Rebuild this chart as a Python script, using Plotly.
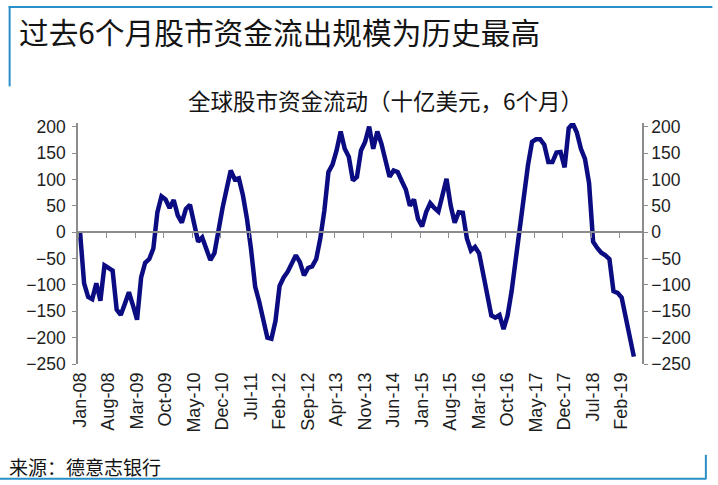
import plotly.graph_objects as go
import pandas as pd

# ---------------- data ----------------
months = pd.date_range("2008-01-01", periods=137, freq="MS").strftime("%b-%y").tolist()

flows = [
    0, -97, -123, -127, -97, -130, -63, -67, -73, -147,
    -157, -136, -114, -139, -166, -86, -58, -51, -31, 38,
    68, 62, 46, 61, 32, 18, 44, 52, 16, -18,
    -10, -33, -53, -40, 6, 46, 82, 117, 100, 102,
    70, 25, -33, -103, -132, -170, -200, -202, -168, -102,
    -86, -75, -57, -44, -57, -82, -68, -65, -51, -12,
    41, 114, 128, 155, 191, 158, 143, 98, 105, 155,
    171, 200, 158, 191, 168, 136, 105, 117, 114, 97,
    81, 50, 62, 25, 11, 38, 55, 46, 39, 70,
    101, 51, 18, 38, 37, -12, -35, -28, -40, -79,
    -120, -158, -162, -157, -184, -158, -111, -51, 13, 76,
    127, 171, 176, 176, 166, 133, 133, 151, 152, 123,
    197, 206, 189, 158, 139, 93, -18, -30, -39, -44,
    -51, -112, -115, -124, -162, -197, -236,
]

y_ticks = [200, 150, 100, 50, 0, -50, -100, -150, -200, -250]
x_tick_labels = months[::7]

title_text = "过去6个月股市资金流出规模为历史最高"
subtitle_text = "全球股市资金流动（十亿美元，6个月）"
source_text = "来源：德意志银行"

# ---------------- layout geometry ----------------
W, H = 718, 485
L, R, T, B = 78.3, 76.3, 122.7, 121.0
PW, PH = W - L - R, H - T - B

def px(x):
    return (x - L) / PW

def py(y):
    return (H - B - y) / PH

Y_RANGE = [-250, 207]
X_RANGE = [-0.5, 138.0]
zero_pos = (0 - Y_RANGE[0]) / (Y_RANGE[1] - Y_RANGE[0])
boundary_ticks = [i - 0.5 for i in range(0, len(months) + 2, 7)]

AXIS_GRAY = "#8c8c8c"
LINE_COLOR = "#0c0c82"
BORDER_BLUE = "#2a8fc8"
YTICK_FONT = dict(family="Liberation Sans, Arial, sans-serif", size=17.5, color="#1e1e1e")
XTICK_FONT = dict(family="Liberation Sans, Arial, sans-serif", size=18, color="#1e1e1e")
CJK = "Noto Sans CJK SC, sans-serif"

fig = go.Figure()
fig.add_trace(go.Scatter(
    x=months, y=flows, mode="lines",
    line=dict(color=LINE_COLOR, width=4.5),
    showlegend=False, hoverinfo="x+y",
))
# helper traces so the secondary axes get drawn
fig.add_trace(go.Scatter(x=[months[0]], y=[0], xaxis="x", yaxis="y2", mode="none",
                         showlegend=False, hoverinfo="skip"))
fig.add_trace(go.Scatter(x=[0], y=[0], xaxis="x2", yaxis="y", mode="none",
                         showlegend=False, hoverinfo="skip"))

fig.update_layout(
    width=W, height=H,
    margin=dict(l=L, r=R, t=T, b=B, autoexpand=False),
    paper_bgcolor="white", plot_bgcolor="white",
    xaxis=dict(
        type="category", range=X_RANGE,
        tickmode="array", tickvals=x_tick_labels, ticktext=x_tick_labels,
        tickangle=-90, ticks="", showline=False, showgrid=False, zeroline=False,
        tickfont=XTICK_FONT, ticklabelstandoff=4,
    ),
    xaxis2=dict(
        overlaying="x", anchor="free", position=zero_pos, range=X_RANGE,
        tickmode="array", tickvals=boundary_ticks, ticks="outside", ticklen=5,
        tickcolor=AXIS_GRAY, tickwidth=1.3, showticklabels=False,
        showline=True, linecolor=AXIS_GRAY, linewidth=1.5,
        showgrid=False, zeroline=False,
    ),
    yaxis=dict(
        range=Y_RANGE, tickmode="array", tickvals=y_ticks,
        showline=True, linecolor=AXIS_GRAY, linewidth=1.5,
        ticks="outside", ticklen=4, tickcolor=AXIS_GRAY, tickwidth=1.3,
        showgrid=False, zeroline=False, tickfont=YTICK_FONT, ticklabelstandoff=3,
    ),
    yaxis2=dict(
        overlaying="y", side="right", anchor="x", range=Y_RANGE,
        tickmode="array", tickvals=y_ticks,
        showline=True, linecolor=AXIS_GRAY, linewidth=1.5,
        ticks="outside", ticklen=4, tickcolor=AXIS_GRAY, tickwidth=1.3,
        showgrid=False, zeroline=False, tickfont=YTICK_FONT,
    ),
)

fig.add_annotation(text=title_text, xref="paper", yref="paper",
                   x=px(17), y=py(31), xanchor="left", yanchor="middle",
                   showarrow=False, font=dict(family=CJK, size=29.7, color="#141414"))
fig.add_annotation(text=subtitle_text, xref="paper", yref="paper",
                   x=px(385), y=py(100), xanchor="center", yanchor="middle",
                   showarrow=False, font=dict(family=CJK, size=22.5, color="#141414"))
fig.add_annotation(text=source_text, xref="paper", yref="paper",
                   x=px(7), y=py(467), xanchor="left", yanchor="middle",
                   showarrow=False, font=dict(family=CJK, size=19, color="#141414"))

# decorative frame lines
for x0, y0, x1, y1 in [(9, 6.5, 712, 6.5), (10, 6, 10, 86), (0, 479, 706, 479), (705.5, 455, 705.5, 479)]:
    fig.add_shape(type="line", xref="paper", yref="paper",
                  x0=px(x0), y0=py(y0), x1=px(x1), y1=py(y1),
                  line=dict(color=BORDER_BLUE, width=2))

fig.write_html(
    "out.html",
    config={"displayModeBar": False},
    post_script="document.body.style.margin='0';document.body.style.overflow='hidden';",
)
